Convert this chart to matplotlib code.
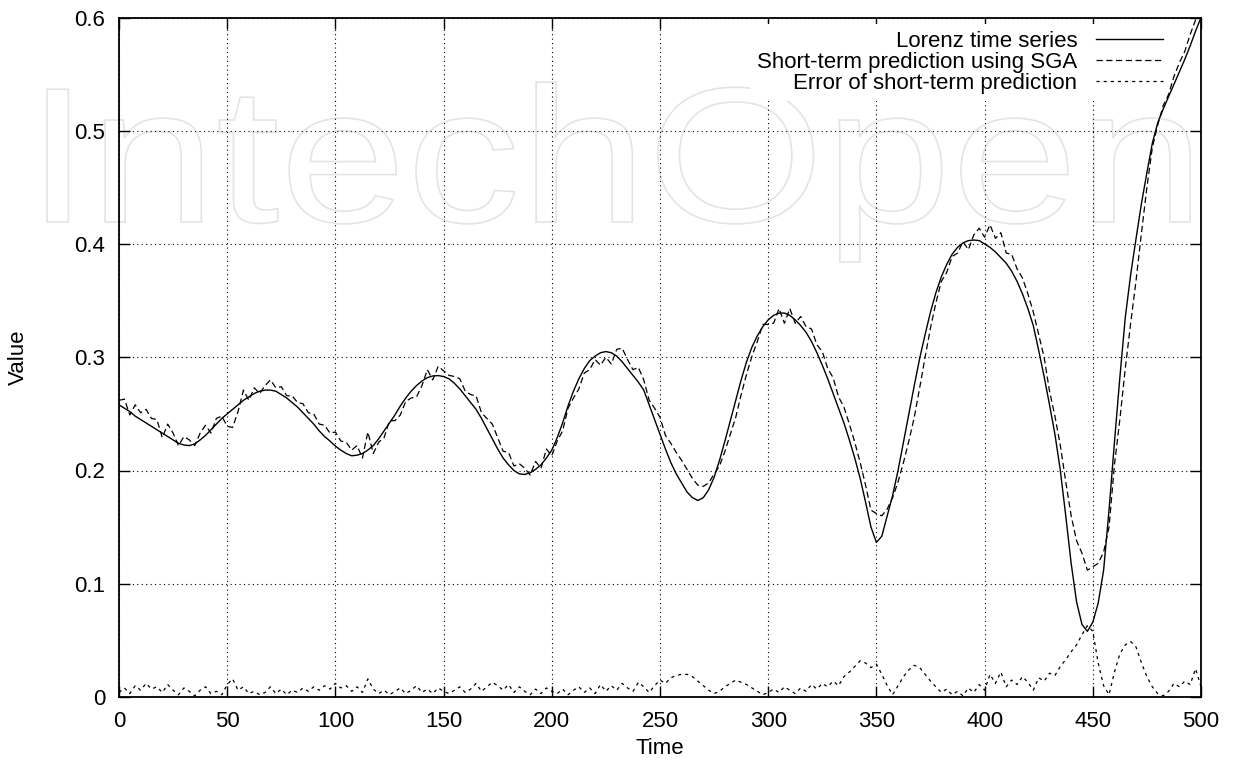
import numpy as np
import matplotlib
matplotlib.use("Agg")
import matplotlib.pyplot as plt
from matplotlib.textpath import TextPath
from matplotlib.patches import PathPatch
from matplotlib.font_manager import FontProperties
from matplotlib.transforms import Affine2D

# time grid (every 2.5 steps)
time = np.arange(0, 500.1, 2.5)

# Lorenz time series
lorenz = [
    .258, .255, .252, .248, .245, .242, .239, .236, .233, .230, .227, .224, .2225, .222, .2235, .227, .231, .236, .241, .246, .250,
    .254, .258, .262, .265, .268, .270, .271, .271, .270, .267, .264, .260, .256, .251, .246, .241, .235, .230, .226, .2215,
    .218, .215, .213, .2135, .215, .218, .222, .228, .235, .242, .249, .257, .264, .270, .275, .279, .282, .2835, .2838, .283,
    .281, .277, .272, .266, .260, .254, .246, .237, .228, .219, .211, .205, .200, .197, .1965, .198, .201, .205, .211, .218,
    .229, .242, .257, .270, .281, .290, .297, .301, .304, .305, .304, .301, .296, .290, .284, .278, .271, .258, .245, .232,
    .219, .207, .197, .189, .181, .176, .1735, .176, .183, .194, .209, .226, .244, .262, .280, .296, .309, .319, .327, .333,
    .337, .339, .339, .337, .333, .328, .322, .314, .304, .293, .281, .268, .255, .242, .227, .211, .193, .172, .150, .1365,
    .142, .160, .178, .200, .225, .250, .275, .299, .320, .340, .357, .371, .382, .391, .397, .401, .403, .4035, .403, .400,
    .397, .393, .388, .383, .376, .367, .356, .343, .328, .306, .283, .258, .232, .200, .160, .118, .084, .064, .058, .066,
    .083, .112, .165, .225, .282, .335, .373, .405, .436, .463, .489, .507, .519, .530, .541, .552, .563, .575, .588, .600,
]

# short-term prediction using SGA
prediction = [
    .262, .263, .249, .258, .251, .254, .246, .245, .229, .241, .233, .222, .230, .227, .222, .233, .240, .233, .246, .248, .239,
    .238, .252, .271, .262, .273, .268, .275, .280, .273, .274, .266, .266, .260, .259, .251, .250, .241, .240, .233, .234,
    .226, .225, .218, .222, .211, .234, .215, .225, .229, .244, .244, .249, .261, .264, .265, .275, .289, .280, .292, .288,
    .284, .283, .281, .270, .267, .266, .251, .246, .241, .229, .217, .216, .204, .206, .202, .196, .208, .202, .219, .213,
    .226, .235, .255, .264, .272, .286, .289, .298, .293, .300, .294, .307, .308, .298, .289, .291, .280, .262, .255, .247,
    .231, .224, .216, .209, .201, .193, .187, .186, .189, .197, .204, .217, .232, .247, .267, .285, .301, .314, .329, .329,
    .330, .343, .330, .343, .330, .336, .327, .325, .311, .305, .290, .282, .265, .256, .241, .225, .207, .187, .165, .162,
    .160, .166, .176, .190, .207, .226, .247, .273, .300, .326, .348, .367, .375, .389, .392, .402, .395, .408, .414, .406,
    .417, .405, .410, .392, .391, .378, .370, .356, .340, .320, .300, .270, .248, .222, .190, .160, .138, .127, .112, .115,
    .118, .128, .150, .205, .245, .290, .330, .368, .410, .450, .485, .505, .522, .532, .548, .560, .570, .585, .598, .612,
]

# error of short-term prediction
error = [
    .004, .008, .003, .010, .006, .012, .007, .009, .004, .011, .006, .002, .008, .005, .001, .006, .009, .003, .005, .002, .011,
    .016, .006, .009, .003, .005, .002, .004, .009, .003, .007, .002, .006, .004, .008, .005, .009, .006, .010, .007, .012,
    .008, .010, .005, .009, .004, .016, .007, .003, .006, .002, .005, .008, .003, .006, .010, .004, .007, .003, .008, .005,
    .003, .006, .009, .004, .007, .012, .005, .009, .013, .010, .006, .011, .004, .009, .005, .002, .007, .003, .008, .005,
    .003, .007, .002, .006, .009, .004, .008, .003, .011, .005, .010, .006, .012, .008, .005, .013, .009, .004, .010, .015,
    .012, .017, .019, .020, .020, .018, .014, .010, .006, .003, .005, .009, .012, .015, .013, .011, .008, .005, .002, .004,
    .007, .004, .009, .006, .003, .008, .005, .011, .007, .012, .009, .014, .010, .018, .022, .027, .032, .030, .026, .029,
    .020, .010, .002, .010, .018, .024, .028, .026, .020, .014, .009, .004, .007, .002, .005, .001, .008, .004, .011, .006,
    .020, .012, .022, .009, .015, .011, .018, .013, .006, .017, .014, .021, .019, .027, .033, .040, .046, .055, .063, .058,
    .030, .010, .002, .022, .038, .046, .049, .044, .030, .018, .009, .003, .001, .005, .012, .009, .014, .011, .025, .009,
]

xticks = [0, 50, 100, 150, 200, 250, 300, 350, 400, 450, 500]
yticks = [0, 0.1, 0.2, 0.3, 0.4, 0.5, 0.6]
ytick_labels = ["0", "0.1", "0.2", "0.3", "0.4", "0.5", "0.6"]

plt.rcParams["font.family"] = ["Liberation Sans", "DejaVu Sans"]
FS = 16

W, H = 1234, 761
fig = plt.figure(figsize=(W / 100, H / 100), dpi=100)
ax = fig.add_axes([119 / W, 1 - 697 / H, (1201 - 119) / W, (697 - 17.5) / H])
ax.set_facecolor("none")
ax.set_axisbelow(True)

# faint outlined watermark behind the plot
tp = TextPath((0, 0), "IntechOpen", size=1, prop=FontProperties(family="Liberation Sans"))
wm_tr = Affine2D().scale(228 / W, 193 / H).translate(26 / W, 1 - 222 / H) + fig.transFigure
wm = PathPatch(tp, facecolor="none", edgecolor="#e4e4e4", lw=1.2, transform=wm_tr, zorder=-1)
fig.add_artist(wm)

ax.plot(time, lorenz, color="black", lw=1.0, label="Lorenz time series", zorder=3)
ax.plot(time, prediction, color="black", lw=0.9, dashes=(5, 2.8),
        label="Short-term prediction using SGA", zorder=3)
ax.plot(time, error, color="black", lw=0.9, dashes=(2.5, 3.2),
        label="Error of short-term prediction", zorder=3)

ax.set_xlim(0, 500)
ax.set_ylim(0, 0.6)
ax.set_xticks(xticks)
ax.set_yticks(yticks)
ax.set_yticklabels(ytick_labels)
ax.tick_params(direction="in", top=True, right=True, length=8, width=1.0,
               labelsize=FS, pad=10)
for s in ax.spines.values():
    s.set_linewidth(1.3)
    s.set_zorder(4)
ax.grid(True, color="black", lw=0.8, linestyle=(0, (1, 3)))

leg = ax.legend(loc="upper right", bbox_to_anchor=(0.971, 0.990), markerfirst=False,
                fontsize=FS, handlelength=3.0, handletextpad=0.86, labelspacing=0.0,
                borderaxespad=0, borderpad=0.3, frameon=True, fancybox=False)
leg.get_frame().set_edgecolor("none")
leg.get_frame().set_facecolor("white")
leg.get_frame().set_alpha(1)
leg.set_zorder(2)
for col in leg._legend_box.get_children()[1].get_children():
    col.align = "right"

fig.text(660 / W, 1 - 748 / H, "Time", ha="center", va="center", fontsize=FS)
fig.text(18 / W, 1 - 357 / H, "Value", ha="center", va="center", rotation=90, fontsize=FS)

fig.savefig("out.png", dpi=100)
